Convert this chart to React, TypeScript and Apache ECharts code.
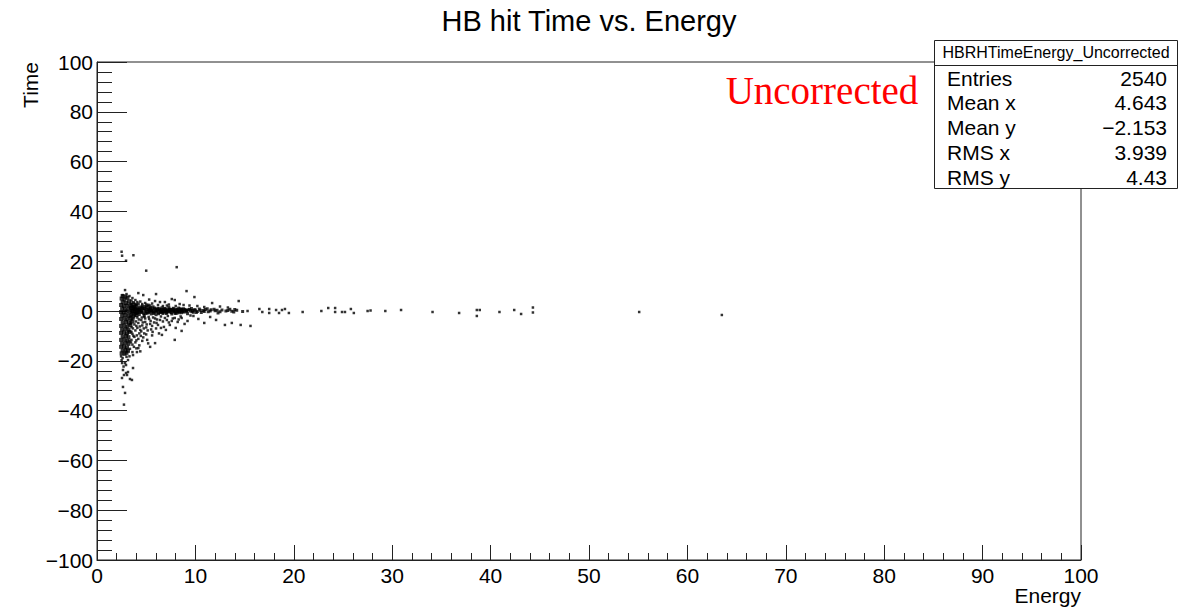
import React, { useEffect, useRef } from "react";
import * as echarts from "echarts";

// ---- data (Energy, Time) ----
const corePoints: number[][] = [
  [2.5, 5.0], [2.8, 4.6], [3.1, 5.3], [2.6, 3.6], [2.95, 3.2], [3.25, 3.9], [2.45, 2.4], [2.75, 2.0], [3.1, 2.2], [3.4, 2.6],
  [2.55, 1.0], [2.85, 0.6], [3.2, 0.9], [3.5, 1.2], [2.45, -0.4], [2.7, -0.6], [3.0, -0.2], [3.3, -0.5], [3.6, 0.0],
  [2.55, -1.8], [2.9, -1.6], [3.2, -2.0], [3.5, -1.4], [2.45, -3.2], [2.8, -3.0], [3.1, -3.4], [3.4, -2.8],
  [2.6, -4.6], [2.95, -4.4], [3.25, -4.9], [2.45, -6.0], [2.8, -5.8], [3.1, -6.3], [3.4, -5.6], [2.55, -7.4],
  [2.9, -7.2], [3.2, -7.7], [2.45, -8.8], [2.75, -8.6], [3.05, -9.0], [3.3, -8.4], [2.6, -10.2], [2.95, -10.0],
  [3.2, -10.5], [2.45, -11.6], [2.8, -11.4], [3.1, -11.9], [2.55, -13.0], [2.9, -12.8], [3.2, -13.2], [2.45, -14.4],
  [2.75, -14.2], [3.05, -14.6], [2.6, -15.8], [2.9, -15.6], [3.15, -16.0], [2.5, -17.0], [2.8, -17.2], [3.0, -16.8],
  [2.6, 6.0], [2.9, 5.8], [3.8, 1.9], [3.9, -0.5], [3.7, -2.2], [3.6, -4.2], [3.7, 1.0], [4.1, 0.3], [4.0, -1.6],
];

const bandPoints: number[][] = [
  [3.5, 2.8], [3.7, 1.8], [3.8, 0.6], [3.9, -0.8], [4.0, 2.2], [4.1, 1.0], [4.2, -0.2], [4.3, -1.4], [4.4, 0.4], [4.5, 1.6],
  [4.6, -0.6], [4.7, 0.8], [4.8, -1.8], [4.9, 0.2], [5.0, 1.4], [5.1, -0.9], [5.2, 0.5], [5.3, -0.2], [5.4, 1.0], [5.5, -1.2],
  [5.6, 0.3], [5.7, 1.7], [5.8, -0.5], [5.9, 0.7], [6.0, -1.5], [6.1, 0.1], [6.2, 1.1], [6.3, -0.7], [6.4, 0.4], [6.5, -0.1],
  [6.6, 1.3], [6.7, -1.0], [6.8, 0.6], [6.9, -0.3], [7.0, 0.9], [7.1, -0.6], [7.2, 0.2], [7.3, 1.5], [7.4, -0.4], [7.5, 0.5],
  [7.6, -1.2], [7.7, 0.0], [7.8, 0.8], [7.9, -0.5], [8.0, 0.3], [8.1, -0.9], [8.2, 0.6], [8.3, 1.2], [8.4, -0.2], [8.5, 0.4],
  [8.6, -0.7], [8.7, 0.1], [8.8, 0.9], [8.9, -0.4], [9.0, 0.3], [9.2, -1.1], [9.3, 0.5], [9.5, 0.0], [9.6, 1.0], [9.8, -0.5],
  [10.0, 0.4], [10.2, -0.2], [10.4, 0.8], [10.6, -0.6], [10.8, 0.2], [11.0, 0.6], [11.3, -0.3], [11.6, 0.5], [12.0, 0.1],
  [12.3, -0.8], [12.7, 0.4], [13.1, 0.0], [13.5, 0.7], [13.9, -0.4], [14.2, 0.3], [14.8, -0.2],
  [3.4, 1.4], [3.6, -0.3], [3.7, 3.4], [3.9, 1.2], [4.0, -1.0], [4.2, 2.8], [4.3, 0.6], [4.5, -0.3], [4.6, 2.0], [4.8, 0.9],
  [5.0, -0.4], [5.2, 2.4], [5.3, 0.9], [5.5, 0.2], [5.7, -0.3], [6.0, 0.8], [6.3, 0.3], [6.6, -0.4], [7.0, 0.1], [7.4, 0.7],
  [7.8, -0.1], [8.2, -0.3], [8.6, 0.5], [9.1, 0.2], [9.7, 0.2],
  [3.45, 0.2], [3.55, 2.0], [3.65, -1.1], [3.75, 0.9], [3.85, -0.2], [3.95, 2.6], [4.05, 0.5], [4.15, -0.7], [4.25, 1.5],
  [4.35, -0.5], [4.45, 1.0], [4.55, 0.1], [4.65, 1.2], [4.75, -1.1], [4.85, 1.8], [4.95, -0.9], [5.05, 0.6], [5.15, 1.9],
  [5.25, -0.6], [5.35, 0.3], [5.45, 1.4], [5.55, -0.3], [5.65, 0.8], [5.75, -1.0], [5.85, 1.2], [5.95, 0.0], [6.05, -0.4],
  [6.15, 0.6], [6.25, -1.1], [6.35, 0.9], [6.45, -0.6], [6.55, 0.6], [6.65, 0.2], [6.75, -0.5], [6.85, 1.0], [6.95, 0.3],
  [7.05, -1.0], [7.15, 0.5], [7.25, -0.2], [7.35, 0.7], [7.45, 0.1], [7.55, -0.6], [7.65, 0.6], [7.75, 1.1], [7.85, 0.1],
  [7.95, -1.0], [8.05, 0.7], [8.15, -0.2], [8.25, 0.2], [8.35, -0.7], [8.45, 0.9], [8.55, -0.1], [8.65, 0.7], [8.75, -0.3],
  [8.95, 0.6], [9.15, -0.2], [9.4, 0.7], [9.65, -0.3], [9.9, 0.5], [10.1, -0.6], [10.5, 0.3], [10.9, -0.2], [11.2, 0.9],
  [11.5, 0.0], [11.9, 0.7], [12.2, 0.3], [12.5, -0.3], [13.3, 0.2], [13.7, -0.1], [14.0, 0.6],
];

const upperPoints: number[][] = [
  [3.3, 6.0], [3.6, 5.2], [3.9, 4.4], [4.2, 7.2], [4.4, 3.8], [4.7, 6.4], [4.9, 3.2], [5.3, 4.6], [5.6, 3.0], [5.9, 4.0],
  [6.0, 6.8], [6.4, 3.6], [6.9, 3.6], [7.3, 2.6], [7.6, 4.8], [7.9, 4.4], [8.4, 2.8], [8.8, 2.4], [9.4, 2.2], [10.2, 2.0],
  [10.9, 1.6], [11.7, 3.2], [12.5, 1.8], [13.3, 1.4], [2.85, 8.4], [2.6, 6.4], [3.0, 6.8], [9.9, 5.6], [14.4, 4.0],
  [3.5, 4.2], [3.8, 3.0], [4.1, 3.6], [4.6, 2.8], [5.0, 2.6], [5.4, 2.2], [6.2, 2.4], [6.7, 2.0], [7.1, 2.2], [8.0, 2.0],
];

const lowerPoints: number[][] = [
  [3.4, -4.0], [3.5, -6.5], [3.6, -9.2], [3.5, -11.6], [3.6, -13.5], [3.7, -3.0], [3.8, -5.4], [3.9, -7.8], [3.8, -10.4],
  [3.9, -12.6], [4.0, -15.0], [4.1, -2.6], [4.2, -4.8], [4.1, -6.8], [4.3, -9.0], [4.2, -11.2], [4.3, -13.8], [4.4, -16.2],
  [4.5, -3.6], [4.6, -5.8], [4.5, -8.2], [4.7, -10.6], [4.6, -12.0], [4.8, -2.4], [4.9, -4.4], [5.0, -6.6], [5.0, -9.4],
  [5.1, -11.6], [5.2, -13.0], [5.3, -3.2], [5.4, -5.2], [5.5, -7.4], [5.4, -14.4], [5.6, -9.8], [5.7, -2.6], [5.8, -4.6],
  [5.9, -12.9], [6.0, -7.0], [6.1, -3.4], [6.2, -5.6], [6.3, -9.0], [6.5, -2.2], [6.6, -9.6], [6.7, -4.2], [6.8, -6.4],
  [7.0, -7.6], [7.1, -3.6], [7.2, -2.0], [7.4, -5.6], [7.6, -4.0], [7.9, -11.6], [7.9, -2.8], [8.0, -6.8], [8.2, -4.4],
  [8.5, -2.2], [8.6, -8.0], [8.6, -2.8], [8.9, -5.2], [9.2, -4.0], [9.5, -1.8], [9.8, -2.0], [10.3, -3.2], [10.9, -4.8],
  [11.5, -2.4], [12.1, -3.6], [13.0, -5.6], [13.7, -4.8], [14.6, -5.6], [15.6, -6.0],
  [3.45, -2.2], [3.55, -3.4], [3.45, -5.0], [3.65, -7.0], [3.5, -8.4], [3.7, -10.0], [3.45, -12.6], [3.75, -14.4],
  [3.85, -1.8], [3.95, -4.2], [4.0, -6.0], [4.05, -9.8], [4.0, -11.8], [4.25, -3.4], [4.35, -6.2], [4.4, -7.6],
  [4.45, -10.0], [4.55, -2.6], [4.65, -4.6], [4.75, -7.0], [4.8, -9.0], [4.9, -3.0], [5.05, -5.4], [5.15, -7.8],
  [5.25, -2.4], [5.45, -4.0], [5.6, -6.0], [5.65, -8.4], [5.9, -3.0], [6.05, -4.8], [6.4, -3.6], [6.5, -6.8],
  [6.9, -2.8], [7.3, -4.6], [7.7, -3.0], [8.3, -3.4],
  [2.6, -18.9], [2.85, -20.9], [2.55, -20.9], [2.95, -21.7], [3.15, -19.7], [3.3, -18.2], [3.6, -16.5], [3.66, -17.7],
  [4.06, -16.5], [4.2, -14.9], [3.66, -22.9], [3.15, -24.5], [2.64, -23.7], [2.95, -24.9], [2.74, -25.7], [3.05, -25.7],
  [2.54, -26.9], [3.35, -27.3], [3.55, -27.7], [2.64, -30.5], [2.85, -32.9], [2.74, -37.6], [2.5, -19.8], [2.7, -22.3],
  [3.0, -18.4], [2.45, -18.2], [3.35, -15.2], [3.3, -12.0],
];

const sparsePoints: number[][] = [
  [2.5, 23.8], [2.55, 22.2], [3.7, 22.4], [2.95, 20.2], [5.0, 16.2], [8.1, 17.6], [9.1, 8.0],
  [15.3, 0.0], [16.5, 0.8], [16.8, -0.4], [17.5, 0.8], [17.5, -0.8], [18.2, 0.4], [18.5, -0.8], [18.8, 0.4], [19.1, 0.8],
  [19.5, -0.8], [20.9, -0.4], [22.8, 0.0], [23.5, 1.2], [24.2, 1.2], [24.2, -0.4], [24.9, -0.4], [25.2, -0.4], [25.8, 0.8],
  [26.1, -0.8], [27.5, 0.0], [27.8, 0.2], [29.3, 0.0], [30.9, 0.4], [34.1, -0.4], [36.8, -0.8], [38.6, 0.4], [38.9, 0.4],
  [38.6, -2.0], [40.9, -0.4], [42.4, 0.4], [43.1, -1.2], [44.3, 1.4], [44.3, -0.6], [55.1, -0.4], [63.5, -1.6],
];

const statLabels = ["Entries", "Mean x", "Mean y", "RMS x", "RMS y"];
const statValues = ["2540", "4.643", "\u22122.153", "3.939", "4.43"];
const histName = "HBRHTimeEnergy_Uncorrected";
const chartTitle = "HB hit Time vs. Energy";

const FONT = "'Liberation Sans', Arial, Helvetica, sans-serif";

export default function App() {
  const ref = useRef<HTMLDivElement>(null);
  useEffect(() => {
    if (!ref.current) return;
    const chart = echarts.init(ref.current, undefined, { renderer: "svg" });
    const fmt = (v: number) => String(v).replace("-", "\u2212");
    const axisCommon = {
      type: "value" as const,
      axisLine: { show: true, onZero: false, lineStyle: { color: "#222", width: 1 } },
      splitLine: { show: false },
      axisLabel: { color: "#000", fontSize: 21, fontFamily: FONT, formatter: fmt },
    };
    const scatter = (data: number[][], size: number) => ({
      type: "scatter" as const,
      data,
      symbol: "rect",
      symbolSize: size,
      itemStyle: { color: "#000" },
      silent: true,
    });
    const statGraphics: any[] = [];
    statLabels.forEach((lab, i) => {
      const y = 78 + i * 24.8;
      statGraphics.push({
        type: "text", x: 947, y, z: 101,
        style: { text: lab, font: `21px ${FONT}`, fill: "#000", align: "left", verticalAlign: "middle" },
      });
      statGraphics.push({
        type: "text", x: 1167, y, z: 101,
        style: { text: statValues[i], font: `21px ${FONT}`, fill: "#000", align: "right", verticalAlign: "middle" },
      });
    });
    chart.setOption({
      animation: false,
      backgroundColor: "#fff",
      grid: { left: 97, right: 110, top: 62, bottom: 52, show: true, borderColor: "#222", borderWidth: 1, backgroundColor: "transparent" },
      xAxis: {
        ...axisCommon,
        min: 0, max: 100, interval: 10,
        axisTick: { show: true, inside: true, length: 15, lineStyle: { color: "#222" } },
        minorTick: { show: true, splitNumber: 5, length: 7, lineStyle: { color: "#222" } },
        axisLabel: { ...axisCommon.axisLabel, margin: 5 },
      },
      yAxis: {
        ...axisCommon,
        min: -100, max: 100, interval: 20,
        axisTick: { show: true, inside: true, length: 30, lineStyle: { color: "#222" } },
        minorTick: { show: true, splitNumber: 5, length: 15, lineStyle: { color: "#222" } },
        axisLabel: { ...axisCommon.axisLabel, margin: 4 },
      },
      series: [
        scatter(corePoints, 4),
        scatter(bandPoints, 3),
        scatter(upperPoints, 2.5),
        scatter(lowerPoints, 2.5),
        scatter(sparsePoints, 2.5),
      ],
      graphic: [
        {
          type: "text", x: 589, y: 21, z: 100,
          style: { text: chartTitle, font: `29px ${FONT}`, fill: "#000", align: "center", verticalAlign: "middle" },
        },
        {
          type: "text", x: 1081, y: 595, z: 100,
          style: { text: "Energy", font: `21px ${FONT}`, fill: "#000", align: "right", verticalAlign: "middle" },
        },
        {
          type: "text", x: 30, y: 62, rotation: Math.PI / 2, z: 100,
          style: { text: "Time", font: `21px ${FONT}`, fill: "#000", align: "right", verticalAlign: "middle" },
        },
        {
          type: "text", x: 822, y: 90, z: 100,
          style: { text: "Uncorrected", font: `39px 'Liberation Serif', 'Times New Roman', serif`, fill: "#ff0000", align: "center", verticalAlign: "middle" },
        },
        {
          type: "rect", z: 100,
          shape: { x: 934.5, y: 40.5, width: 243, height: 148 },
          style: { fill: "#fff", stroke: "#222", lineWidth: 1 },
        },
        {
          type: "line", z: 101,
          shape: { x1: 934.5, y1: 65.5, x2: 1177.5, y2: 65.5 },
          style: { stroke: "#222", lineWidth: 1 },
        },
        {
          type: "text", x: 1056, y: 52, z: 101,
          style: { text: histName, font: `16px ${FONT}`, fill: "#000", align: "center", verticalAlign: "middle" },
        },
        ...statGraphics,
      ],
    });
    return () => chart.dispose();
  }, []);
  return (
    <div
      ref={ref}
      style={{ position: "fixed", left: 0, top: 0, width: 1191, height: 612, background: "#fff" }}
    />
  );
}
